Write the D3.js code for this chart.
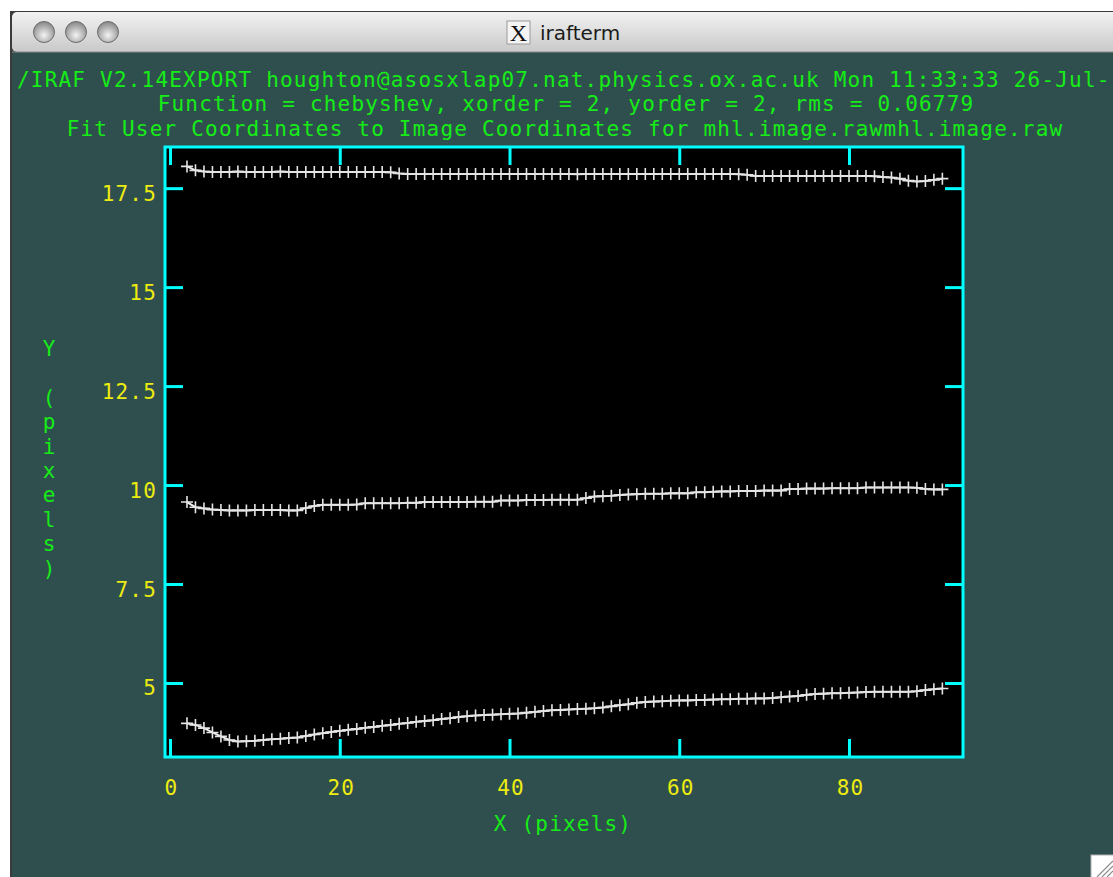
<!DOCTYPE html>
<html>
<head>
<meta charset="utf-8">
<script src="https://cdn.jsdelivr.net/npm/d3@7"></script>
<style>
  html, body { margin: 0; padding: 0; background: #ffffff; }
  svg { display: block; }
</style>
</head>
<body>
<div id="chart"></div>
<script>
'use strict';

// ------------ DATA ---------------- //

const X_VALUES = [
     2,  3,  4,  5,  6,  7,  8,  9, 10, 11, 12, 13, 14, 15, 16, 17, 18, 19, 20, 21,
    22, 23, 24, 25, 26, 27, 28, 29, 30, 31, 32, 33, 34, 35, 36, 37, 38, 39, 40, 41,
    42, 43, 44, 45, 46, 47, 48, 49, 50, 51, 52, 53, 54, 55, 56, 57, 58, 59, 60, 61,
    62, 63, 64, 65, 66, 67, 68, 69, 70, 71, 72, 73, 74, 75, 76, 77, 78, 79, 80, 81,
    82, 83, 84, 85, 86, 87, 88, 89, 90, 91
];

const TOP_Y = [
    18.05, 17.95, 17.92, 17.91, 17.91, 17.91, 17.92, 17.91, 17.91, 17.91, 17.91, 17.92, 17.91, 17.91, 17.91, 17.91, 17.91, 17.91, 17.91, 17.91,
    17.91, 17.91, 17.91, 17.91, 17.90, 17.87, 17.86, 17.86, 17.86, 17.86, 17.86, 17.86, 17.86, 17.86, 17.86, 17.86, 17.86, 17.86, 17.86, 17.86,
    17.86, 17.86, 17.86, 17.86, 17.86, 17.86, 17.85, 17.86, 17.86, 17.86, 17.86, 17.86, 17.86, 17.86, 17.86, 17.86, 17.86, 17.86, 17.86, 17.86,
    17.86, 17.86, 17.86, 17.86, 17.86, 17.85, 17.84, 17.81, 17.81, 17.81, 17.81, 17.81, 17.81, 17.81, 17.81, 17.81, 17.81, 17.81, 17.81, 17.81,
    17.81, 17.80, 17.78, 17.77, 17.74, 17.69, 17.67, 17.68, 17.71, 17.74
];

const MID_Y = [
    9.57, 9.44, 9.41, 9.38, 9.37, 9.36, 9.36, 9.36, 9.37, 9.37, 9.37, 9.37, 9.36, 9.36, 9.42, 9.47, 9.50, 9.50, 9.50, 9.50,
    9.51, 9.54, 9.54, 9.54, 9.54, 9.54, 9.55, 9.55, 9.57, 9.57, 9.57, 9.57, 9.57, 9.57, 9.58, 9.58, 9.58, 9.61, 9.61, 9.61,
    9.62, 9.62, 9.62, 9.63, 9.63, 9.63, 9.63, 9.67, 9.71, 9.72, 9.73, 9.75, 9.76, 9.77, 9.78, 9.78, 9.78, 9.79, 9.79, 9.79,
    9.82, 9.82, 9.83, 9.84, 9.84, 9.85, 9.85, 9.85, 9.86, 9.86, 9.86, 9.90, 9.90, 9.91, 9.91, 9.91, 9.92, 9.92, 9.92, 9.92,
    9.94, 9.94, 9.94, 9.94, 9.94, 9.94, 9.93, 9.90, 9.89, 9.89
];

const BOT_Y = [
    3.98, 3.94, 3.86, 3.75, 3.65, 3.56, 3.52, 3.53, 3.54, 3.56, 3.58, 3.59, 3.61, 3.62, 3.66, 3.70, 3.73, 3.76, 3.79, 3.82,
    3.84, 3.87, 3.89, 3.92, 3.94, 3.97, 3.99, 4.02, 4.04, 4.06, 4.09, 4.11, 4.14, 4.16, 4.18, 4.19, 4.20, 4.21, 4.22, 4.23,
    4.25, 4.27, 4.29, 4.31, 4.32, 4.33, 4.34, 4.35, 4.36, 4.38, 4.41, 4.44, 4.46, 4.50, 4.52, 4.53, 4.54, 4.55, 4.56, 4.56,
    4.57, 4.57, 4.58, 4.59, 4.59, 4.60, 4.60, 4.61, 4.61, 4.62, 4.64, 4.66, 4.67, 4.70, 4.72, 4.73, 4.74, 4.74, 4.75, 4.76,
    4.77, 4.78, 4.78, 4.78, 4.78, 4.78, 4.79, 4.82, 4.84, 4.86
];

const SERIES = [TOP_Y, MID_Y, BOT_Y];

const X_TICKS = [0, 20, 40, 60, 80];
const Y_TICKS = [5, 7.5, 10, 12.5, 15, 17.5];

const HEADER_LINES = [
    '/IRAF V2.14EXPORT houghton@asosxlap07.nat.physics.ox.ac.uk Mon 11:33:33 26-Jul-',
    'Function = chebyshev, xorder = 2, yorder = 2, rms = 0.06779',
    'Fit User Coordinates to Image Coordinates for mhl.image.rawmhl.image.raw'
];

const X_LABEL     = 'X (pixels)';
const Y_LABEL     = 'Y (pixels)';
const WINDOW_NAME = 'irafterm';

// ------------ LOOK ---------------- //

const W      = 1113;
const H      = 877;
const TEAL   = '#2f4f4f';
const CYAN   = '#00ffff';
const GREEN  = '#16ec16';
const YELLOW = '#ecec10';
const MONO   = '"DejaVu Sans Mono", "Liberation Mono", monospace';
const FRAME  = {left: 165, right: 963, top: 147, bottom: 757};

const monoText = sel => sel
    .attr('font-family', MONO)
    .attr('font-size', 21)
    .attr('letter-spacing', 1.2);

// ------------ WINDOW CHROME ---------------- //

const drawWindow = svg => {
    const defs = svg.append('defs');

    const bar = defs.append('linearGradient')
        .attr('id', 'bar').attr('x1', 0).attr('y1', 0).attr('x2', 0).attr('y2', 1);
    bar.append('stop').attr('offset', '0%').attr('stop-color', '#f2f2f2');
    bar.append('stop').attr('offset', '100%').attr('stop-color', '#c9c9c9');

    const knob = defs.append('radialGradient')
        .attr('id', 'knob').attr('cx', '50%').attr('cy', '65%').attr('r', '60%');
    knob.append('stop').attr('offset', '0%').attr('stop-color', '#f4f4f4');
    knob.append('stop').attr('offset', '100%').attr('stop-color', '#8d8d8d');

    svg.append('rect').attr('width', W).attr('height', H).attr('fill', '#ffffff');

    // window body and title bar
    svg.append('rect')
        .attr('x', 10).attr('y', 11).attr('width', W).attr('height', H)
        .attr('fill', '#3b3b3b');
    svg.append('rect')
        .attr('x', 12).attr('y', 52).attr('width', W).attr('height', H)
        .attr('fill', TEAL);
    svg.append('rect')
        .attr('x', 12).attr('y', 12).attr('width', W).attr('height', 40)
        .attr('rx', 5)
        .attr('fill', 'url(#bar)');
    svg.append('line')
        .attr('x1', 12).attr('x2', W).attr('y1', 52).attr('y2', 52)
        .attr('stroke', '#8a8a8a');

    svg.selectAll('.knob')
        .data([44, 76, 108])
        .enter()
            .append('circle')
            .attr('class', 'knob')
            .attr('cx', d => d).attr('cy', 32).attr('r', 10.5)
            .attr('fill', 'url(#knob)')
            .attr('stroke', '#6b6b6b').attr('stroke-width', 1);

    svg.append('rect')
        .attr('x', 507).attr('y', 21).attr('width', 23).attr('height', 23)
        .attr('fill', '#f4f4f4').attr('stroke', '#9a9a9a');
    svg.append('text')
        .attr('x', 518.5).attr('y', 41)
        .attr('text-anchor', 'middle')
        .attr('font-family', '"Liberation Serif", serif')
        .attr('font-size', 24)
        .attr('fill', '#111')
        .text('X');
    svg.append('text')
        .attr('x', 540).attr('y', 40)
        .attr('font-family', '"DejaVu Sans", sans-serif')
        .attr('font-size', 20)
        .attr('fill', '#1a1a1a')
        .text(WINDOW_NAME);

    // resize grip
    svg.append('rect')
        .attr('x', 1091).attr('y', 855).attr('width', 24).attr('height', 24)
        .attr('fill', '#ffffff').attr('stroke', '#b0b0b0');
    svg.selectAll('.grip')
        .data([6, 11, 16])
        .enter()
            .append('line')
            .attr('class', 'grip')
            .attr('x1', d => 1113 - d).attr('y1', 877)
            .attr('x2', 1113).attr('y2', d => 877 - d)
            .attr('stroke', '#8c8c8c').attr('stroke-width', 1.2);
};

// ------------ HEADER ---------------- //

const drawHeader = svg => {
    const spec = [
        {x: 17,  y: 87,  anchor: 'start'},
        {x: 566, y: 111, anchor: 'middle'},
        {x: 565, y: 136, anchor: 'middle'}
    ];
    HEADER_LINES.forEach((line, i) => {
        svg.append('text')
            .attr('x', spec[i].x).attr('y', spec[i].y)
            .attr('text-anchor', spec[i].anchor)
            .attr('fill', GREEN)
            .call(monoText)
            .text(line);
    });
};

// ------------ PLOT ---------------- //

const drawPlot = svg => {
    const x = d3.scaleLinear().domain([-0.59, 93.43]).range([FRAME.left, FRAME.right]);
    const y = d3.scaleLinear().domain([3.13, 18.54]).range([FRAME.bottom, FRAME.top]);

    svg.append('rect')
        .attr('x', FRAME.left).attr('y', FRAME.top)
        .attr('width', FRAME.right - FRAME.left)
        .attr('height', FRAME.bottom - FRAME.top)
        .attr('fill', '#000000');

    const styleAxis = g => {
        g.select('.domain').remove();
        g.selectAll('.tick line').attr('stroke', CYAN).attr('stroke-width', 3);
        g.selectAll('.tick text').attr('fill', YELLOW).call(monoText);
    };

    // bottom / top
    svg.append('g')
        .attr('transform', `translate(0,${FRAME.bottom})`)
        .call(d3.axisBottom(x).tickValues(X_TICKS).tickSize(-18).tickPadding(0)
            .tickFormat(d => String(d)))
        .call(styleAxis)
        .call(g => g.selectAll('.tick text')
            .attr('y', 38).attr('dy', null).attr('dx', 1));

    svg.append('g')
        .attr('transform', `translate(0,${FRAME.top})`)
        .call(d3.axisTop(x).tickValues(X_TICKS).tickSize(-18).tickFormat(''))
        .call(styleAxis);

    // left / right
    svg.append('g')
        .attr('transform', `translate(${FRAME.left},0)`)
        .call(d3.axisLeft(y).tickValues(Y_TICKS).tickSize(-18).tickPadding(0)
            .tickFormat(d => String(d)))
        .call(styleAxis)
        .call(g => g.selectAll('.tick text')
            .attr('x', -8).attr('dy', null).attr('y', 12));

    svg.append('g')
        .attr('transform', `translate(${FRAME.right},0)`)
        .call(d3.axisRight(y).tickValues(Y_TICKS).tickSize(-18).tickFormat(''))
        .call(styleAxis);

    svg.append('rect')
        .attr('x', FRAME.left).attr('y', FRAME.top)
        .attr('width', FRAME.right - FRAME.left)
        .attr('height', FRAME.bottom - FRAME.top)
        .attr('fill', 'none')
        .attr('stroke', CYAN).attr('stroke-width', 3);

    // data: polyline + plus markers
    const line = d3.line()
        .x((d, i) => x(X_VALUES[i]))
        .y(d => y(d));

    const series = svg.selectAll('.series')
        .data(SERIES)
        .enter()
            .append('g')
            .attr('class', 'series');

    series.append('path')
        .attr('d', line)
        .attr('fill', 'none')
        .attr('stroke', '#f0f0f0')
        .attr('stroke-width', 2);

    series.selectAll('.plus')
        .data(d => d.map((v, i) => ({x: X_VALUES[i], y: v})))
        .enter()
            .append('path')
            .attr('class', 'plus')
            .attr('transform', d => `translate(${x(d.x)},${y(d.y)})`)
            .attr('d', 'M-6,0H6M0,-6V6')
            .attr('stroke', '#e4e4e4')
            .attr('stroke-width', 1.6)
            .attr('fill', 'none');

    // axis titles
    svg.append('text')
        .attr('x', 563).attr('y', 831)
        .attr('text-anchor', 'middle')
        .attr('fill', GREEN)
        .call(monoText)
        .text(X_LABEL);

    svg.selectAll('.ylab')
        .data(Array.from(Y_LABEL))
        .enter()
            .append('text')
            .attr('class', 'ylab')
            .attr('x', 49)
            .attr('y', (d, i) => 356 + i * 24.4)
            .attr('text-anchor', 'middle')
            .attr('fill', GREEN)
            .attr('font-family', MONO)
            .attr('font-size', 21)
            .text(d => d);
};

// ------------ MAIN ---------------- //

const svg = d3.select('#chart')
    .append('svg')
    .attr('width', W)
    .attr('height', H);

drawWindow(svg);
drawHeader(svg);
drawPlot(svg);
</script>
</body>
</html>
